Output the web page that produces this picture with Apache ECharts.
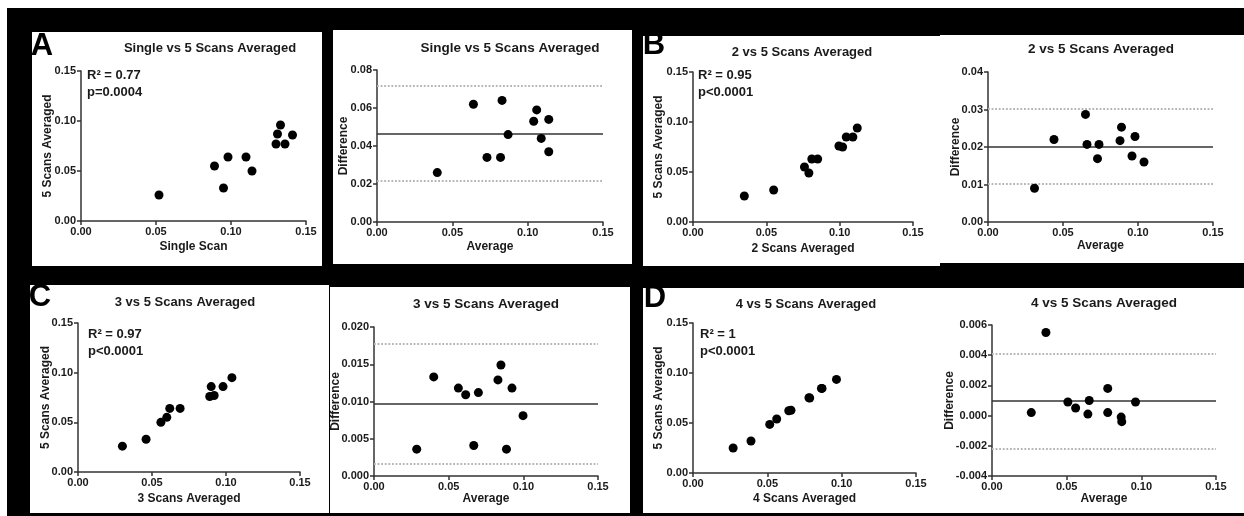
<!DOCTYPE html>
<html><head><meta charset="utf-8">
<script src="https://cdn.jsdelivr.net/npm/echarts@6/dist/echarts.min.js"></script>
<style>html,body{margin:0;padding:0;background:#000;}#c{width:1244px;height:516px;}</style>
</head><body><div id="c"></div>
<script>
// ---------------- DATA ----------------
const panelLetters = ['A', 'B', 'C', 'D'];
const panelTitles = ['Single vs 5 Scans Averaged', 'Single vs 5 Scans Averaged', '2 vs 5 Scans Averaged', '2 vs 5 Scans Averaged',
  '3 vs 5 Scans Averaged', '3 vs 5 Scans Averaged', '4 vs 5 Scans Averaged', '4 vs 5 Scans Averaged'];
const xNames = ['Single Scan', 'Average', '2 Scans Averaged', 'Average', '3 Scans Averaged', 'Average', '4 Scans Averaged', 'Average'];
const yNames = ['5 Scans Averaged', 'Difference', '5 Scans Averaged', 'Difference', '5 Scans Averaged', 'Difference', '5 Scans Averaged', 'Difference'];
const r2Labels = ['R\u00B2 = 0.77', 'R\u00B2 = 0.95', 'R\u00B2 = 0.97', 'R\u00B2 = 1'];
const pLabels = ['p=0.0004', 'p<0.0001', 'p<0.0001', 'p<0.0001'];

// axis ranges [min, max, interval] and decimals of tick labels
const xRange = [0, 0.15, 0.05];
const yRanges = [[0, 0.15, 0.05], [0, 0.08, 0.02], [0, 0.15, 0.05], [0, 0.04, 0.01],
  [0, 0.15, 0.05], [0, 0.02, 0.005], [0, 0.15, 0.05], [-0.004, 0.006, 0.002]];
const yDecimals = [2, 2, 2, 2, 2, 3, 2, 3];

// A: single scan vs 5 scans averaged
const singleScan = [0.052, 0.089, 0.095, 0.098, 0.110, 0.114, 0.130, 0.131, 0.133, 0.136, 0.141];
const fiveScansA = [0.026, 0.055, 0.033, 0.064, 0.064, 0.050, 0.077, 0.087, 0.096, 0.077, 0.086];
const avgA = [0.040, 0.064, 0.073, 0.082, 0.083, 0.087, 0.104, 0.106, 0.109, 0.114, 0.114];
const diffA = [0.026, 0.062, 0.034, 0.034, 0.064, 0.046, 0.053, 0.059, 0.044, 0.054, 0.037];
const baLinesA = [0.0466, 0.0715, 0.0217]; // mean, upper, lower

// B: 2 scans averaged
const twoScans = [0.035, 0.055, 0.076, 0.079, 0.081, 0.085, 0.0995, 0.102, 0.1045, 0.109, 0.112];
const fiveScansB = [0.026, 0.032, 0.055, 0.049, 0.063, 0.063, 0.076, 0.075, 0.085, 0.085, 0.094];
const avgB = [0.031, 0.044, 0.065, 0.066, 0.073, 0.074, 0.088, 0.089, 0.096, 0.098, 0.104];
const diffB = [0.009, 0.022, 0.0287, 0.0207, 0.0169, 0.0207, 0.0217, 0.0253, 0.0176, 0.0228, 0.016];
const baLinesB = [0.0202, 0.0303, 0.0101];

// C: 3 scans averaged
const threeScans = [0.030, 0.046, 0.056, 0.060, 0.062, 0.069, 0.089, 0.092, 0.090, 0.098, 0.104];
const fiveScansC = [0.026, 0.033, 0.050, 0.055, 0.064, 0.064, 0.076, 0.077, 0.086, 0.086, 0.095];
const avgC = [0.0286, 0.040, 0.0565, 0.0614, 0.0668, 0.0699, 0.083, 0.085, 0.0887, 0.0924, 0.0998];
const diffC = [0.0036, 0.0133, 0.0118, 0.0109, 0.0041, 0.0112, 0.0129, 0.0149, 0.0036, 0.0118, 0.0081];
const baLinesC = [0.0097, 0.0178, 0.0017];

// D: 4 scans averaged
const fourScans = [0.027, 0.039, 0.0516, 0.0563, 0.0644, 0.0659, 0.078, 0.0785, 0.0864, 0.0868, 0.0965];
const fiveScansD = [0.025, 0.032, 0.0486, 0.054, 0.0623, 0.0627, 0.0753, 0.075, 0.0846, 0.0846, 0.0936];
const avgD = [0.0263, 0.0361, 0.0508, 0.056, 0.0642, 0.0651, 0.0775, 0.0775, 0.0865, 0.0869, 0.0961];
const diffD = [0.0002, 0.0055, 0.0009, 0.0005, 0.0001, 0.0010, 0.0018, 0.0002, -0.0001, -0.0004, 0.0009];
const baLinesD = [0.0010, 0.0041, -0.0022];

const panelX = [singleScan, avgA, twoScans, avgB, threeScans, avgC, fourScans, avgD];
const panelY = [fiveScansA, diffA, fiveScansB, diffB, fiveScansC, diffC, fiveScansD, diffD];
const panelBA = [null, baLinesA, null, baLinesB, null, baLinesC, null, baLinesD];

// ---------------- LAYOUT ----------------
const FONT = "'Liberation Sans', Arial, Helvetica, sans-serif";
const INK = '#1a1a1a';
const layouts = [
  { grid: [81, 71, 225, 150], title: [210, 48], ts: 13, xg: 20, yg: 27, ann: [87, 75] },
  { grid: [377, 70, 226, 152], title: [510, 48], ts: 13.5, xg: 19, yg: 27 },
  { grid: [693, 72, 220, 150], title: [802, 52], ts: 13, xg: 21, yg: 28, ann: [698, 75] },
  { grid: [988, 72, 225, 150], title: [1101, 49], ts: 13.5, xg: 18, yg: 26 },
  { grid: [78, 323, 222, 149], title: [185, 302], ts: 13, xg: 21, yg: 26, ann: [88, 334] },
  { grid: [374, 327, 224, 149], title: [486, 304], ts: 13.5, xg: 17, yg: 32 },
  { grid: [693, 323, 223, 150], title: [806, 304], ts: 13, xg: 20, yg: 28, ann: [700, 334] },
  { grid: [992, 325, 224, 151], title: [1104, 303], ts: 13.5, xg: 17, yg: 36 }
];
const whiteRects = [
  [0, 0, 1244, 8], [0, 0, 7, 516],
  [32, 32, 290, 234], [333, 30, 299, 234], [643, 36, 297, 230], [940, 35, 304, 228],
  [30, 285, 299, 228], [330, 287, 300, 226], [643, 288, 297, 225], [940, 288, 304, 225]
];
const letterPos = [[42, 46], [654, 45], [40, 297], [655, 298]];

// ---------------- BUILD ----------------
const grids = [], xAxes = [], yAxes = [], series = [], graphics = [];
whiteRects.forEach(r => graphics.push({ type: 'rect', z: -1, shape: { x: r[0], y: r[1], width: r[2], height: r[3] }, style: { fill: '#fff' } }));

const axisCommon = {
  type: 'value',
  nameLocation: 'middle',
  nameMoveOverlap: false,
  nameTextStyle: { fontFamily: FONT, fontWeight: 'bold', fontSize: 12, color: INK },
  axisLine: { show: true, onZero: false, lineStyle: { color: '#333', width: 1.5 } },
  axisTick: { show: true, inside: false, length: 4, lineStyle: { color: '#333', width: 1.5 } },
  splitLine: { show: false },
  z: 3
};

layouts.forEach((L, i) => {
  grids.push({ left: L.grid[0], top: L.grid[1], width: L.grid[2], height: L.grid[3], containLabel: false, outerBoundsMode: 'none' });
  xAxes.push(Object.assign({}, axisCommon, {
    gridIndex: i, min: xRange[0], max: xRange[1], interval: xRange[2],
    name: xNames[i], nameGap: L.xg,
    axisLabel: { show: true, margin: 5, showMinLabel: true, showMaxLabel: true, fontFamily: FONT, fontWeight: 'bold', fontSize: 11, color: INK, formatter: v => v.toFixed(2) }
  }));
  const yr = yRanges[i], dec = yDecimals[i];
  yAxes.push(Object.assign({}, axisCommon, {
    gridIndex: i, min: yr[0], max: yr[1], interval: yr[2],
    name: yNames[i], nameGap: L.yg,
    axisLabel: { show: true, margin: 5, showMinLabel: true, showMaxLabel: true, fontFamily: FONT, fontWeight: 'bold', fontSize: 11, color: INK, formatter: v => v.toFixed(dec) }
  }));
  const s = {
    type: 'scatter', xAxisIndex: i, yAxisIndex: i, symbol: 'circle', symbolSize: 9,
    itemStyle: { color: '#000', opacity: 1 }, z: 5, silent: true,
    data: panelX[i].map((x, k) => [x, panelY[i][k]])
  };
  const ba = panelBA[i];
  if (ba) {
    s.markLine = {
      silent: true, symbol: ['none', 'none'], label: { show: false }, animation: false, precision: 6,
      data: [
        { yAxis: ba[0], lineStyle: { type: 'solid', color: '#333', width: 1.5 } },
        { yAxis: ba[1], lineStyle: { type: 'dotted', color: '#b5b5b5', width: 1.8 } },
        { yAxis: ba[2], lineStyle: { type: 'dotted', color: '#b5b5b5', width: 1.8 } }
      ]
    };
  }
  series.push(s);
  graphics.push({ type: 'text', x: L.title[0], y: L.title[1], z: 10,
    style: { text: panelTitles[i], fill: INK, font: 'bold ' + L.ts + 'px ' + FONT, align: 'center', verticalAlign: 'middle', textAlign: 'center', textVerticalAlign: 'middle' } });
  if (L.ann) {
    const j = Math.floor(i / 2);
    graphics.push({ type: 'text', x: L.ann[0], y: L.ann[1], z: 10,
      style: { text: r2Labels[j], fill: INK, font: 'bold 13px ' + FONT, align: 'left', verticalAlign: 'middle', textAlign: 'left', textVerticalAlign: 'middle' } });
    graphics.push({ type: 'text', x: L.ann[0], y: L.ann[1] + 17, z: 10,
      style: { text: pLabels[j], fill: INK, font: 'bold 13px ' + FONT, align: 'left', verticalAlign: 'middle', textAlign: 'left', textVerticalAlign: 'middle' } });
  }
});
panelLetters.forEach((t, k) => {
  graphics.push({ type: 'text', x: letterPos[k][0], y: letterPos[k][1], z: 10,
    style: { text: t, fill: '#000', font: 'bold 31px ' + FONT, align: 'center', verticalAlign: 'middle', textAlign: 'center', textVerticalAlign: 'middle' } });
});

const chart = echarts.init(document.getElementById('c'), null, { renderer: 'canvas', width: 1244, height: 516 });
chart.setOption({
  backgroundColor: '#000',
  animation: false,
  grid: grids, xAxis: xAxes, yAxis: yAxes, series: series,
  graphic: { elements: graphics }
});
</script></body></html>
